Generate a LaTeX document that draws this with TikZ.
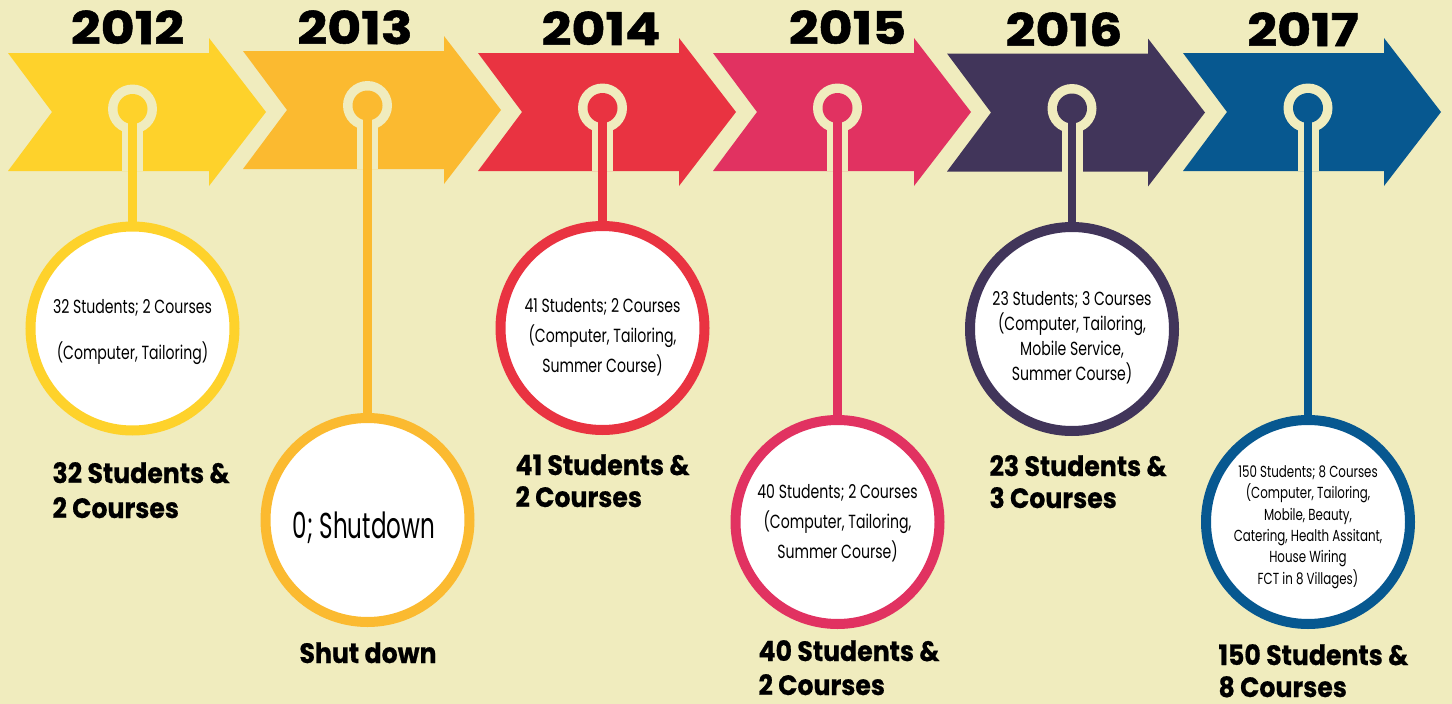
\documentclass[tikz,border=0pt]{standalone}
\usepackage{fontspec}
\setmainfont{Poppins}
\newfontfamily\heavyfont{Poppins}[FakeStretch=0.9, BoldFeatures={FakeBold=0.6}]
\newfontfamily\yearfont{Poppins}[FakeStretch=1.16, BoldFeatures={FakeBold=1.2}]
\newfontfamily\lightfont{Poppins}[FakeStretch=0.74]
\newfontfamily\shutfont{Poppins}[FakeStretch=0.64]

\definecolor{bg}{HTML}{F0ECBE}
\definecolor{cA}{HTML}{FED22B}
\definecolor{cB}{HTML}{FBBA30}
\definecolor{cC}{HTML}{E93341}
\definecolor{cD}{HTML}{E13261}
\definecolor{cE}{HTML}{41355A}
\definecolor{cF}{HTML}{075890}

% chevron arrow: #1 left x, #2 middle y, #3 colour
\newcommand\chevron[3]{%
  \fill[#3] (#1,#2-59) -- (#1+201,#2-59) -- (#1+201,#2-74) -- (#1+258,#2)
    -- (#1+201,#2+74) -- (#1+201,#2+59) -- (#1,#2+59) -- (#1+44,#2) -- cycle;}

\tikzset{
  bubble/.style={circle, draw=#1, fill=white, line width=10pt, minimum size=204pt, inner sep=0pt},
  pindisc/.style={circle, fill=#1, minimum size=30pt, inner sep=0pt},
  year/.style={anchor=base, font=\yearfont\bfseries\fontsize{45}{45}\selectfont},
  headline/.style={anchor=base west, font=\heavyfont\bfseries\fontsize{28}{33}\selectfont},
  info/.style={align=center, inner sep=0pt, font=\lightfont\fontsize{19}{#1}\selectfont},
  outline/.style={draw=bg, line width=21pt},
  stem/.style={draw=#1, line width=8.5pt},
}

\begin{document}
\begin{tikzpicture}[x=1pt,y=-1pt]
\fill[bg] (0,0) rectangle (1452,704);
\useasboundingbox (0,0) rectangle (1452,704);

% arrows
\chevron{8}{112}{cA}
\chevron{243}{110}{cB}
\chevron{478}{112}{cC}
\chevron{713}{112}{cD}
\chevron{947}{112.5}{cE}
\chevron{1183}{112}{cF}

% years
\node[year] (y1) at (127.5,44) {2012};
\node[year] (y2) at (355,44) {2013};
\node[year] (y3) at (601,45) {2014};
\node[year] (y4) at (847.5,44) {2015};
\node[year] (y5) at (1064,46) {2016};
\node[year] (y6) at (1303,46) {2017};

% bubbles
\node[bubble=cA] (c1) at (132.5,328.5) {};
\node[bubble=cB] (c2) at (367.5,520) {};
\node[bubble=cC] (c3) at (602.5,328) {};
\node[bubble=cD] (c4) at (837.5,522) {};
\node[bubble=cE] (c5) at (1072,329) {};
\node[bubble=cF] (c6) at (1308,522) {};

% arrow bottoms under each pin
\coordinate (b1) at (132.5,171);
\coordinate (b2) at (367.5,169);
\coordinate (b3) at (602.5,171);
\coordinate (b4) at (837.5,171);
\coordinate (b5) at (1072,172);
\coordinate (b6) at (1308,171);

% pins
\coordinate (q1) at (132.5,109);
\coordinate (q2) at (367.5,105.5);
\coordinate (q3) at (602.5,108);
\coordinate (q4) at (837.5,108);
\coordinate (q5) at (1072,108.5);
\coordinate (q6) at (1308,108);

\foreach \i/\col in {1/cA,2/cB,3/cC,4/cD,5/cE,6/cF}{
  \draw[outline] (q\i) -- (b\i);
  \fill[bg] (q\i) circle (24.5);
  \draw[stem=\col] (q\i) -- (c\i.north);
  \node[pindisc=\col] (p\i) at (q\i) {};
}

% bubble texts
\node[info=46] (t1) at (132.5,332) {32 Students; 2 Courses\\(Computer, Tailoring)};
\node[align=center, inner sep=0pt, font=\shutfont\fontsize{36}{40}\selectfont] (t2) at (364,528) {0; Shutdown};
\node[info=30] (t3) at (602.5,337) {41 Students; 2 Courses\\(Computer, Tailoring,\\Summer Course)};
\node[info=30] (t4) at (837.5,523) {40 Students; 2 Courses\\(Computer, Tailoring,\\Summer Course)};
\node[info=25] (t5) at (1072,338) {23 Students; 3 Courses\\(Computer, Tailoring,\\Mobile Service,\\Summer Course)};
\node[align=center, inner sep=0pt, font=\lightfont\fontsize{16}{21.3}\selectfont] (t6) at (1308,527)
  {150 Students; 8 Courses\\(Computer, Tailoring,\\Mobile, Beauty,\\Catering, Health Assitant,\\House Wiring\\FCT in 8 Villages)};

% headlines
\node[headline] (h1a) at (49,483) {32 Students \&};
\node[headline] (h1b) at (49,518) {2 Courses};
\node[headline, anchor=base] (h2) at (368,663) {Shut down};
\node[headline] (h3a) at (512,475) {41 Students \&};
\node[headline] (h3b) at (512,507) {2 Courses};
\node[headline] (h4a) at (755,661) {40 Students \&};
\node[headline] (h4b) at (755,695) {2 Courses};
\node[headline] (h5a) at (986,476) {23 Students \&};
\node[headline] (h5b) at (986,508) {3 Courses};
\node[headline] (h6a) at (1215,665) {150 Students \&};
\node[headline] (h6b) at (1215,697) {8 Courses};
\end{tikzpicture}
\end{document}
